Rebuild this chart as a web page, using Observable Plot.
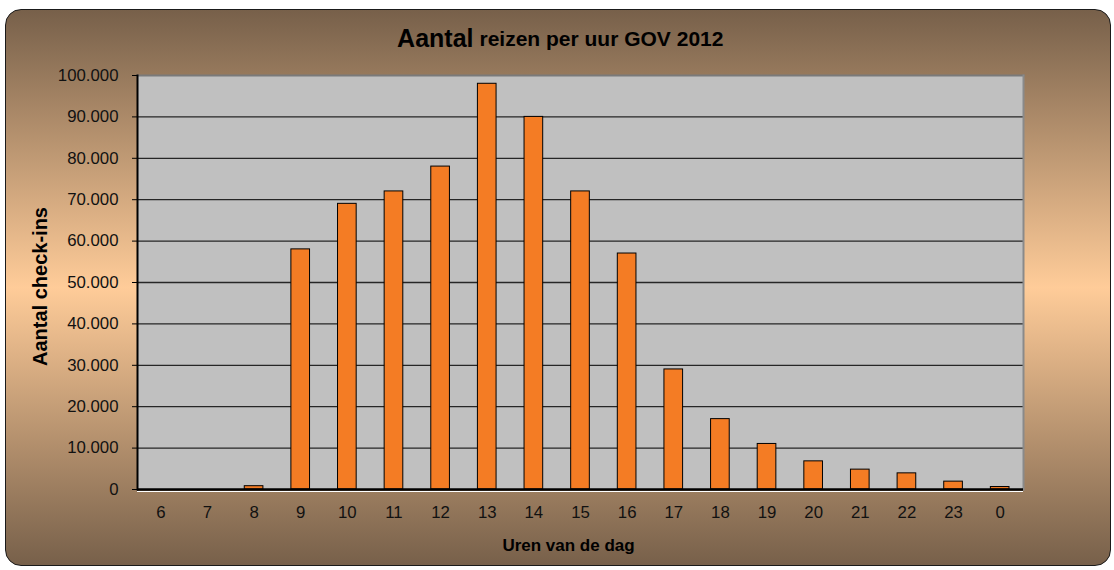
<!DOCTYPE html>
<html><head><meta charset="utf-8">
<script src="https://cdn.jsdelivr.net/npm/d3@7"></script>
<script src="https://cdn.jsdelivr.net/npm/@observablehq/plot@0.6"></script>
<style>
body{margin:0;background:#fff;}
#wrap{position:relative;width:1114px;height:570px;overflow:hidden;}
#bg{position:absolute;left:5px;top:9px;width:1104px;height:555px;border:1.5px solid #1a1a1a;border-radius:16px;
background:linear-gradient(to bottom,#77604a 0%,#ffcc99 50%,#77604a 100%);}
#chart{position:absolute;left:0;top:0;}
</style></head><body>
<div id="wrap"><div id="bg"></div><div id="chart"></div></div>
<script>
const hours = ["6","7","8","9","10","11","12","13","14","15","16","17","18","19","20","21","22","23","0"];
const checkins = [0,0,800,58000,69000,72000,78000,98000,90000,72000,57000,29000,17000,11000,6800,4800,3900,1900,600];
const yTicks = [0,10000,20000,30000,40000,50000,60000,70000,80000,90000,100000];
const gridTicks = [10000,20000,30000,40000,50000,60000,70000,80000,90000];
const titleBig = "Aantal";
const titleRest = "reizen per uur GOV 2012";
const xLabel = "Uren van de dag";
const yLabel = "Aantal check-ins";

const data = hours.map((h, i) => ({hour: h, value: checkins[i]}));
const fmt = d => d3.format(",")(d).replace(/,/g, ".");
const font = "'Liberation Sans', Arial, sans-serif";

const chart = Plot.plot({
  width: 1114,
  height: 570,
  marginLeft: 137,
  marginRight: 91,
  marginTop: 75,
  marginBottom: 81,
  style: {background: "transparent", fontFamily: font, fontSize: "16.8px", color: "#111"},
  x: {type: "band", domain: hours, paddingInner: 0.6, paddingOuter: 0.3, round: false},
  y: {domain: [0, 100000]},
  marks: [
    Plot.frame({fill: "#c0c0c0"}),
    Plot.gridY(gridTicks, {stroke: "#262626", strokeOpacity: 1, strokeWidth: 1.3}),
    Plot.frame({anchor: "top", stroke: "#7a7a7a", strokeWidth: 2}),
    Plot.frame({anchor: "right", stroke: "#8a8a8a", strokeWidth: 2}),
    Plot.barY(data, {x: "hour", y: "value", fill: "#f47c24", stroke: "#000", strokeWidth: 1}),
    Plot.ruleY([0], {stroke: "#fff", strokeWidth: 1, dy: 2}),
    Plot.ruleY([0], {stroke: "#000", strokeWidth: 2.5}),
    Plot.frame({anchor: "left", stroke: "#000", strokeWidth: 2}),
    Plot.axisY({ticks: yTicks, tickSize: 5, tickPadding: 14, tickFormat: fmt, label: null, stroke: "#000"}),
    Plot.axisX({tickSize: 0, tickPadding: 17, label: null}),
    Plot.text([titleBig], {frameAnchor: "top-left", dx: 336, dy: -37, textAnchor: "end", lineAnchor: "middle", fontSize: 25, fontWeight: "bold", fill: "#000"}),
    Plot.text([titleRest], {frameAnchor: "top-left", dx: 342, dy: -36, textAnchor: "start", lineAnchor: "middle", fontSize: 21, fontWeight: "bold", fill: "#000"}),
    Plot.text([xLabel], {frameAnchor: "bottom", dx: -12, dy: 56, textAnchor: "middle", lineAnchor: "middle", fontSize: 17, fontWeight: "bold", fill: "#000"}),
    Plot.text([yLabel], {frameAnchor: "left", dx: -97, dy: 4, rotate: -90, textAnchor: "middle", lineAnchor: "middle", fontSize: 20, fontWeight: "bold", fill: "#000"})
  ]
});
document.getElementById("chart").appendChild(chart);
</script>
</body></html>
